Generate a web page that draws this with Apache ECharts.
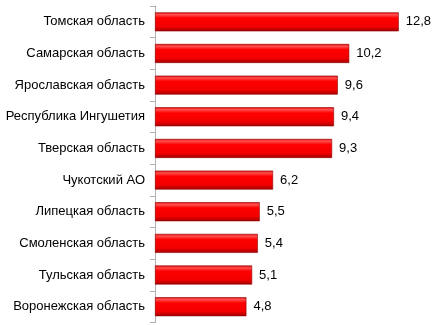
<!DOCTYPE html>
<html><head><meta charset="utf-8">
<script src="https://cdn.jsdelivr.net/npm/echarts@6/dist/echarts.min.js"></script>
<style>html,body{margin:0;padding:0;background:#fff}#c{width:437px;height:325px}</style>
</head><body><div id="c"></div>
<script>
var categories = ["Томская область","Самарская область","Ярославская область","Республика Ингушетия","Тверская область","Чукотский АО","Липецкая область","Смоленская область","Тульская область","Воронежская область"];
var values = [12.8,10.2,9.6,9.4,9.3,6.2,5.5,5.4,5.1,4.8];
var chart = echarts.init(document.getElementById('c'), null, {renderer:'canvas'});
chart.setOption({
  animation:false,
  grid:{left:155,right:15.4,top:6,bottom:2.5,containLabel:false},
  xAxis:{type:'value',min:0,max:14,show:false},
  yAxis:{type:'category',data:categories,inverse:true,
    axisLine:{show:true,lineStyle:{color:'#b0b0b0',width:1}},
    axisTick:{show:true,length:5,lineStyle:{color:'#b0b0b0'}},
    axisLabel:{color:'#000',fontFamily:'Liberation Sans, Arial',fontSize:13,margin:10}},
  series:[{type:'bar',data:values,barWidth:19,
    itemStyle:{color:new echarts.graphic.LinearGradient(0,0,0,1,[
      {offset:0,color:'#e00000'},{offset:0.12,color:'#ff5050'},{offset:0.3,color:'#ff0000'},
      {offset:0.75,color:'#f20000'},{offset:1,color:'#a00000'}]),
      borderColor:'#900000',borderWidth:0.6},
    label:{show:true,position:'right',distance:7,color:'#000',fontFamily:'Liberation Sans, Arial',fontSize:13,
      formatter:function(p){return String(p.value).replace('.',',');}}}]
});
</script></body></html>
